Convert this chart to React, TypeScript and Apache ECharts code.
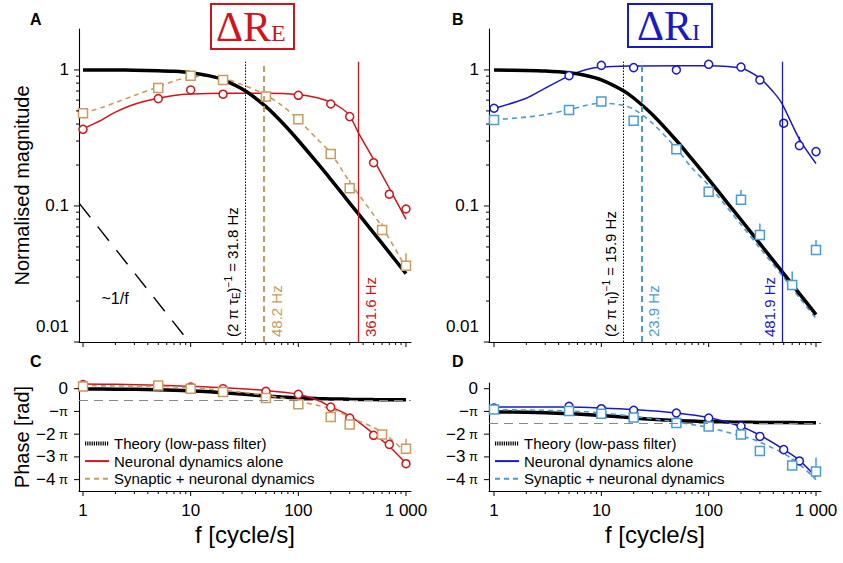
import { useEffect, useRef } from 'react';
import * as echarts from 'echarts';

const FONT = 'Liberation Sans, Arial, Helvetica, sans-serif';
const SERIF = 'Liberation Serif, Times New Roman, serif';
const RED = '#d0141c';
const GOLD = '#c99b5e';
const BLUE = '#1a1ac4';
const LBLUE = '#4a9bd4';

// ---------- Panel A : magnitude of ΔR_E ----------
const aTheoryF = [1, 2, 3, 5, 7, 10, 15, 20, 31.8, 50, 70, 100, 150, 200, 300, 500, 700, 1000];
const aTheoryM = [1.0, 0.998, 0.996, 0.988, 0.977, 0.954, 0.904, 0.847, 0.707, 0.537, 0.414, 0.303, 0.207, 0.157, 0.105, 0.0635, 0.0454, 0.0318];
const aNeuroFitF = [1, 1.5, 2, 3, 5, 7, 10, 20, 50, 100, 150, 200, 250, 300, 361.6, 500, 700, 1000];
const aNeuroFitM = [0.37, 0.43, 0.49, 0.56, 0.62, 0.65, 0.665, 0.675, 0.675, 0.66, 0.625, 0.58, 0.525, 0.46, 0.345, 0.22, 0.135, 0.08];
const aSynFitF = [1, 1.5, 2, 3, 5, 7, 10, 15, 20, 30, 48.2, 70, 100, 150, 200, 300, 600, 1000];
const aSynFitM = [0.48, 0.53, 0.575, 0.65, 0.75, 0.83, 0.885, 0.9, 0.87, 0.78, 0.665, 0.55, 0.43, 0.31, 0.245, 0.15, 0.07, 0.035];
const aNeuroPtF = [1, 5, 10, 20, 100, 200, 300, 500, 700, 1000];
const aNeuroPtM = [0.366, 0.615, 0.713, 0.663, 0.651, 0.562, 0.454, 0.208, 0.122, 0.095];
const aSynPtF = [1, 5, 10, 20, 50, 100, 200, 300, 600, 1000];
const aSynPtM = [0.48, 0.737, 0.908, 0.844, 0.637, 0.434, 0.241, 0.135, 0.0667, 0.0364];
const aSynErrF = [200, 300, 600, 1000];
const aSynErrTop = [0.261, 0.155, 0.0746, 0.045];
const aOneOverFF = [0.92, 10.4];
const aOneOverFM = [0.105, 0.0093];
const aCutoffs = [31.8, 48.2, 361.6];

// ---------- Panel B : magnitude of ΔR_I ----------
const bTheoryF = [1, 2, 3, 5, 7, 10, 15.9, 20, 30, 50, 70, 100, 150, 200, 300, 500, 700, 1000];
const bTheoryM = [0.998, 0.992, 0.983, 0.954, 0.915, 0.847, 0.707, 0.622, 0.468, 0.303, 0.221, 0.157, 0.105, 0.0792, 0.0529, 0.0318, 0.0227, 0.0159];
const bNeuroFitF = [1, 2, 3, 5, 7, 10, 20, 50, 100, 200, 300, 400, 481.9, 700, 1000];
const bNeuroFitM = [0.52, 0.62, 0.735, 0.905, 1.0, 1.05, 1.07, 1.075, 1.075, 1.03, 0.87, 0.69, 0.565, 0.31, 0.205];
const bSynFitF = [1, 2, 3, 5, 10, 15, 20, 30, 50, 70, 100, 200, 300, 500, 700, 1000];
const bSynFitM = [0.43, 0.45, 0.47, 0.51, 0.57, 0.555, 0.515, 0.405, 0.265, 0.19, 0.142, 0.073, 0.049, 0.0298, 0.0212, 0.0149];
const bNeuroPtF = [1, 5, 10, 20, 50, 100, 200, 300, 500, 700, 1000];
const bNeuroPtM = [0.523, 0.908, 1.08, 1.04, 1.0, 1.10, 1.05, 0.844, 0.406, 0.278, 0.251];
const bNeuroErrF = [700];
const bNeuroErrTop = [0.323];
const bSynPtF = [1, 5, 10, 20, 50, 100, 200, 300, 600, 1000];
const bSynPtM = [0.429, 0.508, 0.585, 0.424, 0.261, 0.127, 0.111, 0.0612, 0.0263, 0.0475];
const bSynErrF = [200, 300, 600, 1000];
const bSynErrTop = [0.131, 0.0743, 0.033, 0.0562];
const bCutoffs = [15.9, 23.9, 481.9];

// ---------- Panel C : phase of ΔR_E (units of π) ----------
const cTheoryF = [1, 2, 3, 5, 7, 10, 15, 20, 31.8, 50, 70, 100, 150, 200, 300, 500, 700, 1000];
const cTheoryP = [-0.01, -0.02, -0.03, -0.05, -0.069, -0.097, -0.14, -0.179, -0.25, -0.32, -0.364, -0.402, -0.434, -0.45, -0.466, -0.48, -0.485, -0.49];
const cNeuroFitF = [1, 2, 5, 10, 20, 50, 100, 150, 200, 300, 500, 700, 1000];
const cNeuroFitP = [0.21, 0.19, 0.15, 0.1, 0.04, -0.08, -0.24, -0.5, -0.8, -1.2, -1.98, -2.54, -3.28];
const cSynFitF = [1, 5, 10, 20, 50, 100, 200, 300, 600, 1000];
const cSynFitP = [0.13, 0.1, 0.04, -0.07, -0.29, -0.56, -0.88, -1.25, -1.91, -2.83];
const cNeuroPtF = [1, 10, 20, 50, 100, 200, 300, 500, 700, 1000];
const cNeuroPtP = [0.18, 0.07, 0.0, -0.12, -0.25, -0.81, -1.29, -2.05, -2.45, -3.3];
const cSynPtF = [1, 5, 10, 20, 50, 100, 200, 300, 600, 1000];
const cSynPtP = [0.1, 0.145, 0.0, -0.15, -0.41, -0.69, -1.25, -1.57, -2.01, -2.64];
const cSynErrF = [600, 1000];
const cSynErrTop = [-1.9, -2.2];
const cAsymptote = -0.5;

// ---------- Panel D : phase of ΔR_I (units of π) ----------
const dTheoryF = [1, 2, 3, 5, 7, 10, 15.9, 20, 30, 50, 70, 100, 150, 200, 300, 500, 700, 1000];
const dTheoryP = [-1.02, -1.04, -1.059, -1.097, -1.132, -1.179, -1.25, -1.286, -1.346, -1.402, -1.426, -1.45, -1.466, -1.475, -1.483, -1.49, -1.493, -1.497];
const dNeuroFitF = [1, 5, 10, 20, 50, 100, 200, 300, 500, 700, 1000];
const dNeuroFitP = [-0.81, -0.81, -0.85, -0.92, -1.07, -1.27, -1.66, -2.05, -2.67, -3.15, -3.88];
const dSynFitF = [1, 5, 10, 20, 50, 100, 200, 300, 600, 1000];
const dSynFitP = [-0.92, -0.98, -1.07, -1.22, -1.47, -1.71, -2.08, -2.35, -3.08, -4.0];
const dNeuroPtF = [1, 5, 10, 20, 50, 100, 200, 300, 500, 700];
const dNeuroPtP = [-0.85, -0.78, -0.88, -0.95, -1.07, -1.29, -1.64, -2.1, -2.68, -3.18];
const dSynPtF = [1, 5, 10, 20, 50, 100, 200, 300, 600, 1000];
const dSynPtP = [-0.92, -0.98, -1.1, -1.27, -1.51, -1.66, -2.01, -2.74, -3.38, -3.64];
const dSynErrF = [600, 1000];
const dSynErrTop = [-3.08, -3.03];
const dAsymptote = -1.5;

// ---------- axis ticks ----------
const xMajorTicks = [1, 10, 100, 1000];
const xMinorTicks = [2, 3, 4, 5, 6, 7, 8, 9, 20, 30, 40, 50, 60, 70, 80, 90, 200, 300, 400, 500, 600, 700, 800, 900];
const yLogMajorTicks = [0.01, 0.1, 1];
const yLogMinorTicks = [0.02, 0.03, 0.04, 0.05, 0.06, 0.07, 0.08, 0.09, 0.2, 0.3, 0.4, 0.5, 0.6, 0.7, 0.8, 0.9];
const yPhaseTicks = [0, -1, -2, -3, -4];

const LEG_THEORY = 'Theory (low-pass filter)';
const LEG_NEURO = 'Neuronal dynamics alone';
const LEG_SYN = 'Synaptic + neuronal dynamics';

const pts = (xs: number[], ys: number[]) => xs.map((x, i) => [x, ys[i]]);

function fitLine(name: string, idx: number, data: number[][], color: string, width: number, type: any, extra: any = {}) {
  return {
    type: 'line', name, xAxisIndex: idx, yAxisIndex: idx, data, symbol: 'none',
    smooth: 0.3, silent: true, z: 2,
    lineStyle: { color, width, type }, itemStyle: { color }, ...extra,
  };
}

function markers(idx: number, data: number[][], symbol: string, color: string, size: number) {
  return {
    type: 'scatter', xAxisIndex: idx, yAxisIndex: idx, data, symbol, symbolSize: size, silent: true, z: 4,
    itemStyle: { color: '#ffffff', borderColor: color, borderWidth: 1.5, opacity: 1 },
  };
}

function errBars(idx: number, xs: number[], lows: number[], tops: number[], color: string) {
  return {
    type: 'custom', xAxisIndex: idx, yAxisIndex: idx, silent: true, z: 3, clip: false,
    data: xs.map((x, i) => [x, lows[i], tops[i]]),
    encode: { x: 0, y: [1, 2] },
    renderItem: (_p: any, api: any) => {
      const a = api.coord([api.value(0), api.value(1)]);
      const b = api.coord([api.value(0), api.value(2)]);
      return { type: 'line', shape: { x1: a[0], y1: a[1], x2: b[0], y2: b[1] }, style: { stroke: color, lineWidth: 1.5 } };
    },
  };
}

function tickSeries(idx: number, logY: boolean) {
  const dummyY = logY ? 1 : 0;
  const data: number[][] = [
    ...xMajorTicks.map((v) => [v, dummyY, 0]),
    ...xMinorTicks.map((v) => [v, dummyY, 1]),
    ...(logY ? yLogMajorTicks : yPhaseTicks).map((v) => [1, v, 2]),
    ...(logY ? yLogMinorTicks : []).map((v) => [1, v, 3]),
  ];
  return {
    type: 'custom', xAxisIndex: idx, yAxisIndex: idx, silent: true, z: 6, clip: false, data,
    encode: { x: 0, y: 1 },
    renderItem: (params: any, api: any) => {
      const cs = params.coordSys;
      const kind = api.value(2);
      const p = api.coord([api.value(0), api.value(1)]);
      const st = { stroke: '#000', lineWidth: 1 };
      if (kind < 2) {
        const len = kind === 0 ? 5 : 3;
        const y0 = cs.y + cs.height;
        return { type: 'line', shape: { x1: p[0], y1: y0, x2: p[0], y2: y0 + len }, style: st };
      }
      const len = kind === 2 ? 5 : 3;
      return { type: 'line', shape: { x1: cs.x, y1: p[1], x2: cs.x - len, y2: p[1] }, style: st };
    },
  };
}

const supSub = {
  sub: { fontSize: 10, fontFamily: FONT, verticalAlign: 'bottom', lineHeight: 10 },
  sup: { fontSize: 10, fontFamily: FONT, verticalAlign: 'top', lineHeight: 10 },
};

function vLine(x: number, top: number, color: string, width: number, type: any, text: string, side: 'left' | 'right') {
  return [
    {
      coord: [x, 0.01],
      lineStyle: { color, width, type },
      label: {
        show: true,
        position: side === 'left' ? 'insideStartTop' : 'insideStartBottom',
        formatter: text, color, fontSize: 15, fontFamily: FONT, lineHeight: 18, distance: [5, 3],
        rich: supSub,
      },
    },
    { coord: [x, top] },
  ];
}

const logXLabel = (v: number) => {
  const l = Math.log10(v);
  const r = Math.round(l);
  if (Math.abs(l - r) > 1e-6) return '';
  const map: any = { 0: '1', 1: '10', 2: '100', 3: '1 000' };
  return map[r] ?? '';
};
const logYLabel = (v: number) => {
  const l = Math.log10(v);
  const r = Math.round(l);
  if (Math.abs(l - r) > 1e-6) return '';
  if (r === 0) return '1';
  if (r === -1) return '0.1';
  if (r === -2) return '{low|0.01}';
  return '';
};
const phaseLabel = (v: number) => {
  const r = Math.round(v);
  if (Math.abs(v - r) > 1e-6 || r > 0 || r < -4) return '';
  if (r === 0) return '0';
  if (r === -1) return '{n|−}{p|π}';
  return `{n|−${-r}}{p| π}`;
};

const grids = [
  { left: 79, top: 29, width: 332, height: 313 },
  { left: 489, top: 29, width: 332, height: 313 },
  { left: 79, top: 383, width: 332, height: 108 },
  { left: 489, top: 383, width: 332, height: 108 },
].map((g) => ({ ...g, containLabel: false, outerBoundsMode: 'none' }));

const axisLine = { show: true, onZero: false, lineStyle: { color: '#000', width: 1.1 } };
const labelBase = { color: '#000', fontSize: 17, fontFamily: FONT };

const xAxes = [0, 1, 2, 3].map((i) => ({
  type: 'log', logBase: 10, gridIndex: i,
  min: i % 2 === 0 ? 0.918 : 0.898, max: 1113,
  axisLine, axisTick: { show: false }, splitLine: { show: false }, minorTick: { show: false },
  axisLabel: { show: i >= 2, formatter: logXLabel, margin: 11, ...labelBase },
  name: i >= 2 ? 'f [cycle/s]' : '', nameLocation: 'middle', nameGap: 31,
  nameTextStyle: { fontSize: 24, color: '#000', fontFamily: FONT },
}));

const yAxes = [0, 1, 2, 3].map((i) => i < 2
  ? {
    type: 'log', logBase: 10, gridIndex: i, min: 0.01, max: 2,
    axisLine, axisTick: { show: false }, splitLine: { show: false },
    axisLabel: {
      formatter: logYLabel, margin: 10, ...labelBase,
      rich: { low: { ...labelBase, padding: [0, 0, 32, 0] } },
    },
    name: i === 0 ? 'Normalised magnitude' : '', nameLocation: 'middle', nameGap: 42, nameRotate: 90,
    nameTextStyle: { fontSize: 20, color: '#000', fontFamily: FONT },
  }
  : {
    type: 'value', gridIndex: i, min: -4.5, max: 0.25, interval: 0.5,
    axisLine, axisTick: { show: false }, splitLine: { show: false },
    axisLabel: {
      formatter: phaseLabel, margin: 11, ...labelBase,
      rich: { n: { ...labelBase }, p: { color: '#000', fontSize: 13, fontFamily: FONT } },
    },
    name: i === 2 ? 'Phase [rad]' : '', nameLocation: 'middle', nameGap: 42, nameRotate: 90,
    nameTextStyle: { fontSize: 20, color: '#000', fontFamily: FONT },
  });

const markLineBase = { silent: true, symbol: ['none', 'none'], animation: false };

const series: any[] = [
  // ---- A ----
  fitLine('A|neuro', 0, pts(aNeuroFitF, aNeuroFitM), RED, 1.5, 'solid'),
  fitLine('A|syn', 0, pts(aSynFitF, aSynFitM), GOLD, 1.6, [5, 4]),
  fitLine('A|1/f', 0, pts(aOneOverFF, aOneOverFM), '#000', 1.4, [18, 12], { smooth: false }),
  fitLine('A|theory', 0, pts(aTheoryF, aTheoryM), '#000', 3.5, 'solid', {
    z: 3,
    markLine: {
      ...markLineBase,
      data: [
        vLine(aCutoffs[0], 1.15, '#000', 1, [1.5, 1.5], '(2 π τ{sub|E}){sup|−1} = 31.8 Hz', 'left'),
        vLine(aCutoffs[1], 1.15, GOLD, 2, [6, 4], '48.2 Hz', 'right'),
        vLine(aCutoffs[2], 1.15, RED, 1.3, 'solid', '361.6 Hz', 'right'),
      ],
    },
  }),
  errBars(0, aSynErrF, aSynPtM.slice(6), aSynErrTop, GOLD),
  markers(0, pts(aNeuroPtF, aNeuroPtM), 'circle', RED, 8),
  markers(0, pts(aSynPtF, aSynPtM), 'rect', GOLD, 9),
  tickSeries(0, true),
  // ---- B ----
  fitLine('B|neuro', 1, pts(bNeuroFitF, bNeuroFitM), BLUE, 1.5, 'solid'),
  fitLine('B|syn', 1, pts(bSynFitF, bSynFitM), LBLUE, 1.6, [5, 4]),
  fitLine('B|theory', 1, pts(bTheoryF, bTheoryM), '#000', 3.5, 'solid', {
    z: 3,
    markLine: {
      ...markLineBase,
      data: [
        vLine(bCutoffs[0], 1.15, '#000', 1, [1.5, 1.5], '(2 π τ{sub|I}){sup|−1} = 15.9 Hz', 'left'),
        vLine(bCutoffs[1], 1.15, LBLUE, 2, [6, 4], '23.9 Hz', 'right'),
        vLine(bCutoffs[2], 1.15, BLUE, 1.3, 'solid', '481.9 Hz', 'left'),
      ],
    },
  }),
  errBars(1, bSynErrF, bSynPtM.slice(6), bSynErrTop, LBLUE),
  errBars(1, bNeuroErrF, bNeuroPtM.slice(9, 10), bNeuroErrTop, BLUE),
  markers(1, pts(bNeuroPtF, bNeuroPtM), 'circle', BLUE, 8),
  markers(1, pts(bSynPtF, bSynPtM), 'rect', LBLUE, 9),
  tickSeries(1, true),
  // ---- C ----
  fitLine('C|' + LEG_NEURO, 2, pts(cNeuroFitF, cNeuroFitP), RED, 1.5, 'solid'),
  fitLine('C|' + LEG_SYN, 2, pts(cSynFitF, cSynFitP), GOLD, 1.6, [5, 4]),
  fitLine('C|' + LEG_THEORY, 2, pts(cTheoryF, cTheoryP), '#000', 3.5, 'solid', {
    z: 1,
    markLine: {
      ...markLineBase, label: { show: false },
      data: [{ yAxis: cAsymptote, lineStyle: { color: '#888', width: 1, type: [9, 6] } }],
    },
  }),
  errBars(2, cSynErrF, cSynPtP.slice(8), cSynErrTop, GOLD),
  markers(2, pts(cNeuroPtF, cNeuroPtP), 'circle', RED, 8),
  markers(2, pts(cSynPtF, cSynPtP), 'rect', GOLD, 9),
  tickSeries(2, false),
  // ---- D ----
  fitLine('D|' + LEG_NEURO, 3, pts(dNeuroFitF, dNeuroFitP), BLUE, 1.5, 'solid'),
  fitLine('D|' + LEG_SYN, 3, pts(dSynFitF, dSynFitP), LBLUE, 1.6, [5, 4]),
  fitLine('D|' + LEG_THEORY, 3, pts(dTheoryF, dTheoryP), '#000', 3.5, 'solid', {
    z: 1,
    markLine: {
      ...markLineBase, label: { show: false },
      data: [{ yAxis: dAsymptote, lineStyle: { color: '#888', width: 1, type: [9, 6] } }],
    },
  }),
  errBars(3, dSynErrF, dSynPtP.slice(8), dSynErrTop, LBLUE),
  markers(3, pts(dNeuroPtF, dNeuroPtP), 'circle', BLUE, 8),
  markers(3, pts(dSynPtF, dSynPtP), 'rect', LBLUE, 9),
  tickSeries(3, false),
];

const hiddenSymbol = { opacity: 0, borderWidth: 0 };

const legendFor = (prefix: string, left: number) => ({
  show: true, orient: 'vertical', left, top: 436, itemWidth: 24, itemHeight: 10, itemGap: 2.6,
  selectedMode: false, padding: 0,
  formatter: (n: string) => n.slice(2),
  itemStyle: hiddenSymbol,
  textStyle: { color: '#000', fontSize: 15, fontFamily: FONT, lineHeight: 15 },
  data: [
    { name: prefix + LEG_THEORY, itemStyle: hiddenSymbol, lineStyle: { type: [1.2, 1], width: 4, color: '#000' } },
    { name: prefix + LEG_NEURO, itemStyle: hiddenSymbol },
    { name: prefix + LEG_SYN, itemStyle: hiddenSymbol },
  ],
});

const letter = (t: string, x: number, y: number) => ({
  type: 'text', x, y, style: { text: t, font: `bold 16px ${FONT}`, fill: '#000', verticalAlign: 'middle' },
});

const graphic = [
  letter('A', 30, 19), letter('B', 452, 19), letter('C', 30, 361), letter('D', 452, 361),
  { type: 'rect', shape: { x: 211, y: 4, width: 83, height: 45 }, style: { fill: 'none', stroke: RED, lineWidth: 2 } },
  { type: 'text', x: 216, y: 27, style: { text: 'ΔR', font: `42px ${SERIF}`, fill: RED, verticalAlign: 'middle' } },
  { type: 'text', x: 271, y: 33, style: { text: 'E', font: `24px ${SERIF}`, fill: RED, verticalAlign: 'middle' } },
  { type: 'rect', shape: { x: 628, y: 4, width: 84, height: 43 }, style: { fill: 'none', stroke: BLUE, lineWidth: 2 } },
  { type: 'text', x: 637, y: 26, style: { text: 'ΔR', font: `42px ${SERIF}`, fill: BLUE, verticalAlign: 'middle' } },
  { type: 'text', x: 692, y: 32, style: { text: 'I', font: `24px ${SERIF}`, fill: BLUE, verticalAlign: 'middle' } },
  { type: 'text', x: 115, y: 298, style: { text: '~1/f', font: `16px ${FONT}`, fill: '#000', align: 'center', verticalAlign: 'middle' } },
];

const option: any = {
  animation: false,
  backgroundColor: '#ffffff',
  grid: grids,
  xAxis: xAxes,
  yAxis: yAxes,
  legend: [legendFor('C|', 83), legendFor('D|', 493)],
  graphic,
  series,
};

export default function App() {
  const ref = useRef<HTMLDivElement>(null);
  useEffect(() => {
    if (!ref.current) return;
    const chart = echarts.init(ref.current, undefined, { renderer: 'svg' });
    chart.setOption(option);
    return () => chart.dispose();
  }, []);
  return (
    <div
      ref={ref}
      style={{ position: 'fixed', left: 0, top: 0, width: 843, height: 563, background: '#fff' }}
    />
  );
}
